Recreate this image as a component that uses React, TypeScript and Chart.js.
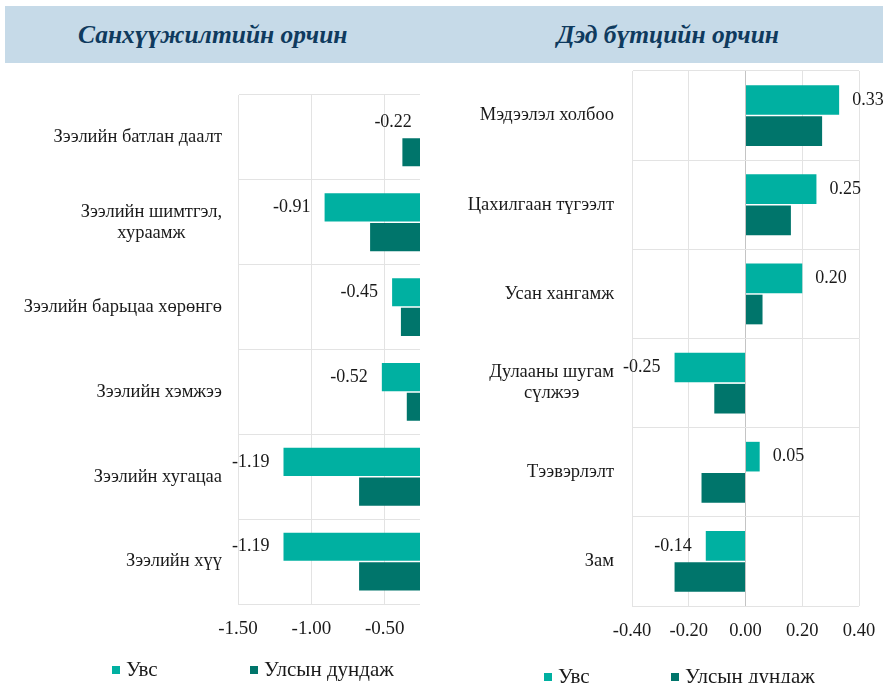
import React, { useEffect, useRef } from 'react';
import { Chart, registerables } from 'chart.js';

Chart.register(...registerables);

// ---------- data ----------
const leftTitle = 'Санхүүжилтийн орчин';
const rightTitle = 'Дэд бүтцийн орчин';
const seriesNames = ['Увс', 'Улсын дундаж'];

const leftCategories: (string | string[])[] = [
  'Зээлийн батлан даалт',
  ['Зээлийн шимтгэл,', 'хураамж'],
  'Зээлийн барьцаа хөрөнгө',
  'Зээлийн хэмжээ',
  'Зээлийн хугацаа',
  'Зээлийн хүү',
];
const leftUvs = [-0.22, -0.91, -0.45, -0.52, -1.19, -1.19];
const leftNational = [-0.38, -0.6, -0.39, -0.35, -0.675, -0.675];
const leftTicks = [-1.5, -1.0, -0.5];
const leftMin = -1.5;
const leftMax = -0.26;

const rightCategories: (string | string[])[] = [
  'Мэдээлэл холбоо',
  'Цахилгаан түгээлт',
  'Усан хангамж',
  ['Дулааны шугам', 'сүлжээ'],
  'Тээвэрлэлт',
  'Зам',
];
const rightUvs = [0.33, 0.25, 0.2, -0.25, 0.05, -0.14];
const rightNational = [0.27, 0.16, 0.06, -0.11, -0.155, -0.25];
const rightTicks = [-0.4, -0.2, 0, 0.2, 0.4];
const rightMin = -0.4;
const rightMax = 0.4;

// ---------- styles ----------
const TEAL = '#00B0A1';
const DARK = '#00756B';
const GRID = '#E3E3E3';
const ZERO = '#C4C4C4';
const TEXT = '#1a1a1a';
const FONT = "'Liberation Serif', 'Times New Roman', serif";
const BAND = '#C6DAE8';
const TITLE = '#0F3A5E';

const yLabelsPlugin = {
  id: 'ylabels',
  afterDraw(chart: any, _args: any, opts: any) {
    const { ctx, chartArea } = chart;
    const yScale = chart.scales.y;
    ctx.save();
    ctx.font = `${opts.size}px ${FONT}`;
    ctx.fillStyle = TEXT;
    ctx.textBaseline = 'middle';
    ctx.textAlign = 'center';
    (chart.data.labels as any[]).forEach((lab, i) => {
      const lines: string[] = Array.isArray(lab) ? lab : [lab];
      const w = Math.max(...lines.map((l) => ctx.measureText(l).width));
      const cx = chartArea.left - opts.gap - w / 2;
      const cy = yScale.getPixelForValue(i);
      lines.forEach((l, j) =>
        ctx.fillText(l, cx, cy + (j - (lines.length - 1) / 2) * opts.lineHeight)
      );
    });
    ctx.restore();
  },
};

const valueLabelsPlugin = {
  id: 'valuelabels',
  afterDatasetsDraw(chart: any, _args: any, opts: any) {
    const { ctx } = chart;
    const meta = chart.getDatasetMeta(0);
    const xs = chart.scales.x;
    const data = chart.data.datasets[0].data as number[];
    ctx.save();
    ctx.font = `${opts.size}px ${FONT}`;
    ctx.fillStyle = TEXT;
    ctx.textBaseline = 'middle';
    meta.data.forEach((bar: any, i: number) => {
      const v = data[i];
      const px = xs.getPixelForValue(v);
      if (v < 0) {
        ctx.textAlign = 'right';
        ctx.fillText(v.toFixed(2), px - opts.gap, bar.y);
      } else {
        ctx.textAlign = 'left';
        ctx.fillText(v.toFixed(2), px + opts.gap - 1, bar.y);
      }
    });
    ctx.restore();
  },
};

type PanelProps = {
  categories: (string | string[])[];
  uvs: number[];
  national: number[];
  ticks: number[];
  min: number;
  max: number;
  width: number;
  height: number;
  left: number;
  top: number;
  yAxisWidth: number;
  xAxisHeight: number;
  padTop: number;
  padRight: number;
  tickSize: number;
  labelSize: number;
  labelGap: number;
  valueSize: number;
};

function BarPanel(p: PanelProps) {
  const ref = useRef<HTMLCanvasElement | null>(null);
  useEffect(() => {
    if (!ref.current) return;
    const ds = (label: string, data: number[], color: string) => ({
      label,
      data,
      backgroundColor: color,
      borderWidth: 0,
      categoryPercentage: 0.7,
      barPercentage: 0.95,
      clip: 0,
    });
    const chart = new Chart(ref.current, {
      type: 'bar',
      data: {
        labels: p.categories as any,
        datasets: [ds(seriesNames[0], p.uvs, TEAL), ds(seriesNames[1], p.national, DARK)],
      },
      options: {
        indexAxis: 'y',
        responsive: false,
        animation: false,
        devicePixelRatio: 1,
        layout: { padding: { top: p.padTop, right: p.padRight, left: 0, bottom: 0 } },
        plugins: {
          legend: { display: false },
          tooltip: { enabled: false },
          ylabels: { size: p.labelSize, gap: p.labelGap, lineHeight: 21 },
          valuelabels: { size: p.valueSize, gap: 14 },
        } as any,
        scales: {
          x: {
            type: 'linear',
            min: p.min,
            max: p.max,
            afterBuildTicks: (s: any) => {
              s.ticks = p.ticks.map((v) => ({ value: v }));
            },
            afterFit: (s: any) => {
              s.height = p.xAxisHeight;
              s.paddingLeft = 0;
              s.paddingRight = 0;
            },
            grid: {
              color: (c: any) => (c.tick && c.tick.value === 0 ? ZERO : GRID),
              drawTicks: false,
            },
            border: { display: false },
            ticks: {
              padding: 14,
              color: TEXT,
              font: { family: FONT, size: p.tickSize },
              maxRotation: 0,
              autoSkip: false,
              callback: (v: any) => Number(v).toFixed(2),
            },
          },
          y: {
            afterFit: (s: any) => {
              s.width = p.yAxisWidth;
              s.paddingTop = 0;
              s.paddingBottom = 0;
            },
            ticks: { display: false },
            grid: { color: GRID, drawTicks: false, offset: true },
            border: { color: GRID },
          },
        },
      },
      plugins: [valueLabelsPlugin, yLabelsPlugin],
    });
    return () => chart.destroy();
  }, []);
  return (
    <canvas
      ref={ref}
      width={p.width}
      height={p.height}
      style={{ position: 'absolute', left: p.left, top: p.top, width: p.width, height: p.height }}
    />
  );
}

function Legend({ x1, x2, y }: { x1: number; x2: number; y: number }) {
  const item = (x: number, color: string, text: string) => (
    <div
      style={{
        position: 'absolute',
        left: x,
        top: y,
        height: 24,
        lineHeight: '24px',
        whiteSpace: 'nowrap',
        fontFamily: FONT,
        fontSize: 21,
        color: TEXT,
      }}
    >
      <span
        style={{
          display: 'inline-block',
          width: 8,
          height: 8,
          background: color,
          marginRight: 6,
          verticalAlign: 'middle',
          position: 'relative',
          top: -1,
        }}
      />
      {text}
    </div>
  );
  return (
    <>
      {item(x1, TEAL, seriesNames[0])}
      {item(x2, DARK, seriesNames[1])}
    </>
  );
}

export default function App() {
  const titleStyle: React.CSSProperties = {
    position: 'absolute',
    top: 22,
    fontFamily: FONT,
    fontStyle: 'italic',
    fontWeight: 'bold',
    fontSize: 25.5,
    lineHeight: '26px',
    color: TITLE,
    whiteSpace: 'nowrap',
  };
  return (
    <div
      style={{
        position: 'absolute',
        left: 0,
        top: 0,
        width: 883,
        height: 683,
        background: '#fff',
        overflow: 'hidden',
      }}
    >
      <div style={{ position: 'absolute', left: 5, top: 6, width: 878, height: 57, background: BAND }} />
      <div style={{ ...titleStyle, left: 78 }}>{leftTitle}</div>
      <div style={{ ...titleStyle, left: 557 }}>{rightTitle}</div>

      <BarPanel
        categories={leftCategories}
        uvs={leftUvs}
        national={leftNational}
        ticks={leftTicks}
        min={leftMin}
        max={leftMax}
        width={470}
        height={621}
        left={0}
        top={62}
        yAxisWidth={238}
        xAxisHeight={79}
        padTop={33}
        padRight={50}
        tickSize={19}
        labelSize={18.5}
        labelGap={16}
        valueSize={18}
      />
      <BarPanel
        categories={rightCategories}
        uvs={rightUvs}
        national={rightNational}
        ticks={rightTicks}
        min={rightMin}
        max={rightMax}
        width={418}
        height={621}
        left={465}
        top={62}
        yAxisWidth={167}
        xAxisHeight={77}
        padTop={9}
        padRight={24}
        tickSize={18.5}
        labelSize={18.5}
        labelGap={18}
        valueSize={18}
      />
      <Legend x1={112} x2={250} y={657} />
      <Legend x1={544} x2={671} y={664} />
    </div>
  );
}
